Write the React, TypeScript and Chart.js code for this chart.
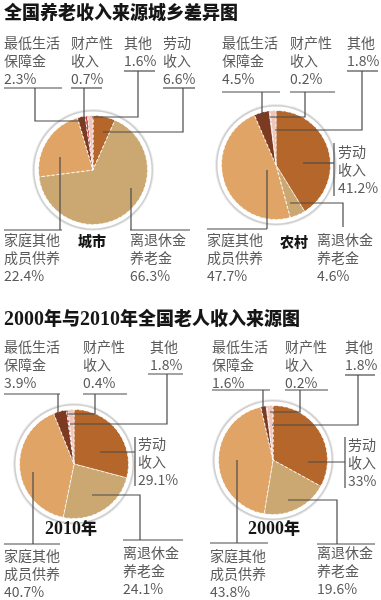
import React, { useEffect, useRef } from "react";
import { Chart, registerables } from "chart.js";

Chart.register(...registerables);

// ---------------- data ----------------
const titles = ["全国养老收入来源城乡差异图", "2000年与2010年全国老人收入来源图"];
const categories = ["劳动收入", "离退休金养老金", "家庭其他成员供养", "最低生活保障金", "财产性收入", "其他"];
const categoryLines = [["劳动", "收入"], ["离退休金", "养老金"], ["家庭其他", "成员供养"], ["最低生活", "保障金"], ["财产性", "收入"], ["其他"]];
const pieNames = ["城市", "农村", "2010年", "2000年"];
const urbanValues = [6.6, 66.3, 22.4, 2.3, 0.7, 1.6];
const ruralValues = [41.2, 4.6, 47.7, 4.5, 0.2, 1.8];
const values2010 = [29.1, 24.1, 40.7, 3.9, 0.4, 1.8];
const values2000 = [33, 19.6, 43.8, 1.6, 0.2, 1.8];
const sliceColors = ["#b5662b", "#cba872", "#e0a566", "#7d3a22", "#c8323c", "#eec7bb"];

const allValues = [urbanValues, ruralValues, values2010, values2000];

// ---------------- layout ----------------
type Pt = [number, number];
type LabelLayout = { x: number; y: number; rule: Pt[] | null; leader: Pt[] };
type PieLayout = { cx: number; cy: number; name: { x: number; y: number; cjk: number; digit: number }; labels: LabelLayout[] };

const layouts: PieLayout[] = [
  {
    cx: 92.5, cy: 170, name: { x: 78, y: 241, cjk: 14, digit: 16 },
    labels: [
      { x: 163, y: 43, rule: [[163, 88], [195, 88]], leader: [[183, 88], [183, 132], [103, 132]] },
      { x: 130, y: 240, rule: [[130, 230], [190, 230]], leader: [[131, 230], [131, 188]] },
      { x: 4, y: 240, rule: [[4, 230], [62, 230]], leader: [[60, 230], [60, 157]] },
      { x: 4, y: 43, rule: [[4, 88], [62, 88]], leader: [[35, 88], [35, 121], [80, 121]] },
      { x: 71, y: 43, rule: [[71, 88], [102, 88]], leader: [[84, 88], [84, 124]] },
      { x: 124, y: 43, rule: [[124, 71], [155, 71]], leader: [[138, 71], [138, 117], [92, 117]] },
    ],
  },
  {
    cx: 275.5, cy: 164.5, name: { x: 280, y: 242, cjk: 14, digit: 16 },
    labels: [
      { x: 338, y: 152, rule: [[334, 143], [334, 196]], leader: [[303, 163], [334, 163]] },
      { x: 317, y: 240, rule: null, leader: [[290, 203], [343, 203], [343, 227]] },
      { x: 207, y: 240, rule: [[207, 229], [267, 229]], leader: [[267, 229], [267, 170]] },
      { x: 222, y: 43, rule: [[222, 92], [280, 92]], leader: [[262, 92], [262, 116]] },
      { x: 290, y: 43, rule: [[290, 92], [335, 92]], leader: [[305, 92], [305, 117], [270, 117]] },
      { x: 347, y: 43, rule: [[347, 71], [378, 71]], leader: [[362, 71], [362, 130], [275, 130]] },
    ],
  },
  {
    cx: 73.5, cy: 464, name: { x: 45, y: 528, cjk: 16, digit: 18 },
    labels: [
      { x: 138, y: 444, rule: [[135, 437], [135, 486]], leader: [[100, 452], [135, 452]] },
      { x: 123, y: 553, rule: [[123, 540], [183, 540]], leader: [[140, 540], [140, 495], [92, 495]] },
      { x: 4, y: 556, rule: [[4, 544], [60, 544]], leader: [[33, 544], [33, 472]] },
      { x: 4, y: 347, rule: [[4, 394], [60, 394]], leader: [[58, 394], [58, 412]] },
      { x: 83, y: 347, rule: [[83, 394], [127, 394]], leader: [[95, 394], [95, 414], [67, 414]] },
      { x: 150, y: 347, rule: [[148, 374], [183, 374]], leader: [[167, 374], [167, 424], [70, 424]] },
    ],
  },
  {
    cx: 272.8, cy: 460, name: { x: 248, y: 528, cjk: 16, digit: 18 },
    labels: [
      { x: 348, y: 445, rule: [[345, 437], [345, 488]], leader: [[308, 462], [345, 462]] },
      { x: 317, y: 553, rule: [[317, 544], [375, 544]], leader: [[337, 544], [337, 500], [288, 500]] },
      { x: 210, y: 556, rule: [[210, 543], [268, 543]], leader: [[237, 543], [237, 460]] },
      { x: 212, y: 347, rule: [[212, 390], [270, 390]], leader: [[263, 390], [263, 410]] },
      { x: 285, y: 347, rule: [[285, 390], [328, 390]], leader: [[300, 390], [300, 412], [270, 412]] },
      { x: 345, y: 347, rule: [[345, 375], [375, 375]], leader: [[358, 375], [358, 425], [272, 425]] },
    ],
  },
];

const titleY = [12, 318];
const CJK = "'Noto Sans CJK SC', 'Noto Sans', sans-serif";
const SERIF = "'Liberation Serif', 'DejaVu Serif', serif";
const LABEL_COLOR = "#5a5a5a";
const LINE_COLOR = "#4a4a4a";
const ROW = 18;

const rimPlugin = {
  id: "rim",
  beforeDatasetsDraw(chart: any) {
    const meta = chart.getDatasetMeta(0);
    const arc = meta.data[0];
    if (!arc) return;
    const { x, y, outerRadius } = arc.getProps(["x", "y", "outerRadius"], true);
    const ctx = chart.ctx;
    ctx.save();
    ctx.beginPath();
    ctx.arc(x, y, outerRadius + 6.5, 0, Math.PI * 2);
    ctx.fillStyle = "#ececec";
    ctx.fill();
    ctx.beginPath();
    ctx.arc(x, y, outerRadius + 5.5, 0, Math.PI * 2);
    ctx.fillStyle = "#cfcfcf";
    ctx.fill();
    ctx.beginPath();
    ctx.arc(x, y, outerRadius + 4, 0, Math.PI * 2);
    ctx.fillStyle = "#ffffff";
    ctx.fill();
    ctx.restore();
  },
};

function PieCanvas({ values, cx, cy }: { values: number[]; cx: number; cy: number }) {
  const ref = useRef<HTMLCanvasElement>(null);
  useEffect(() => {
    const chart = new Chart(ref.current as HTMLCanvasElement, {
      type: "pie",
      data: {
        labels: categories,
        datasets: [
          {
            data: values,
            backgroundColor: sliceColors,
            borderColor: "rgba(255,255,255,0.85)",
            borderWidth: 1,
            borderDash: [3, 2],
          } as any,
        ],
      },
      options: {
        responsive: false,
        animation: false,
        events: [],
        layout: { padding: 10 },
        plugins: { legend: { display: false }, tooltip: { enabled: false } },
      },
      plugins: [rimPlugin],
    });
    return () => chart.destroy();
  }, [values]);
  const size = 130;
  return (
    <canvas
      ref={ref}
      width={size}
      height={size}
      style={{ position: "absolute", left: cx - size / 2, top: cy - size / 2, width: size, height: size }}
    />
  );
}

function runs(s: string) {
  return s.match(/[0-9]+|[^0-9]+/g) || [];
}

function MixedText({ x, y, text, cjk, digit, weight }: { x: number; y: number; text: string; cjk: number; digit: number; weight: number }) {
  return (
    <text x={x} y={y + cjk * 0.37} fill="#161616">
      {runs(text).map((r, i) =>
        /\d/.test(r) ? (
          <tspan key={i} fontFamily={SERIF} fontSize={digit} fontWeight="bold">{r}</tspan>
        ) : (
          <tspan key={i} fontFamily={CJK} fontSize={cjk} fontWeight={weight}>{r}</tspan>
        )
      )}
    </text>
  );
}

function poly(pts: Pt[]) {
  return pts.map((p) => p.join(",")).join(" ");
}

export default function App() {
  return (
    <div style={{ position: "absolute", left: 0, top: 0, width: 381, height: 600, background: "#ffffff", overflow: "hidden" }}>
      {layouts.map((l, i) => (
        <PieCanvas key={i} values={allValues[i]} cx={l.cx} cy={l.cy} />
      ))}
      <svg width={381} height={600} style={{ position: "absolute", left: 0, top: 0 }}>
        {titles.map((t, i) => (
          <MixedText key={"t" + i} x={4} y={titleY[i]} text={t} cjk={18} digit={20} weight={900} />
        ))}
        {layouts.map((l, pi) => (
          <g key={"p" + pi}>
            <MixedText x={l.name.x} y={l.name.y} text={pieNames[pi]} cjk={l.name.cjk} digit={l.name.digit} weight={900} />
            {l.labels.map((lab, ci) => {
              const rows = [...categoryLines[ci], `${allValues[pi][ci]}%`];
              return (
                <g key={ci}>
                  {rows.map((r, ri) => (
                    <text
                      key={ri}
                      x={lab.x}
                      y={lab.y + ri * ROW + 5}
                      fontFamily={CJK}
                      fontSize={14}
                      fill={LABEL_COLOR}
                    >
                      {r}
                    </text>
                  ))}
                  {lab.rule && (
                    <polyline points={poly(lab.rule)} fill="none" stroke={LINE_COLOR} strokeWidth={1.2} />
                  )}
                  <polyline points={poly(lab.leader)} fill="none" stroke={LINE_COLOR} strokeWidth={1.2} />
                </g>
              );
            })}
          </g>
        ))}
      </svg>
    </div>
  );
}
